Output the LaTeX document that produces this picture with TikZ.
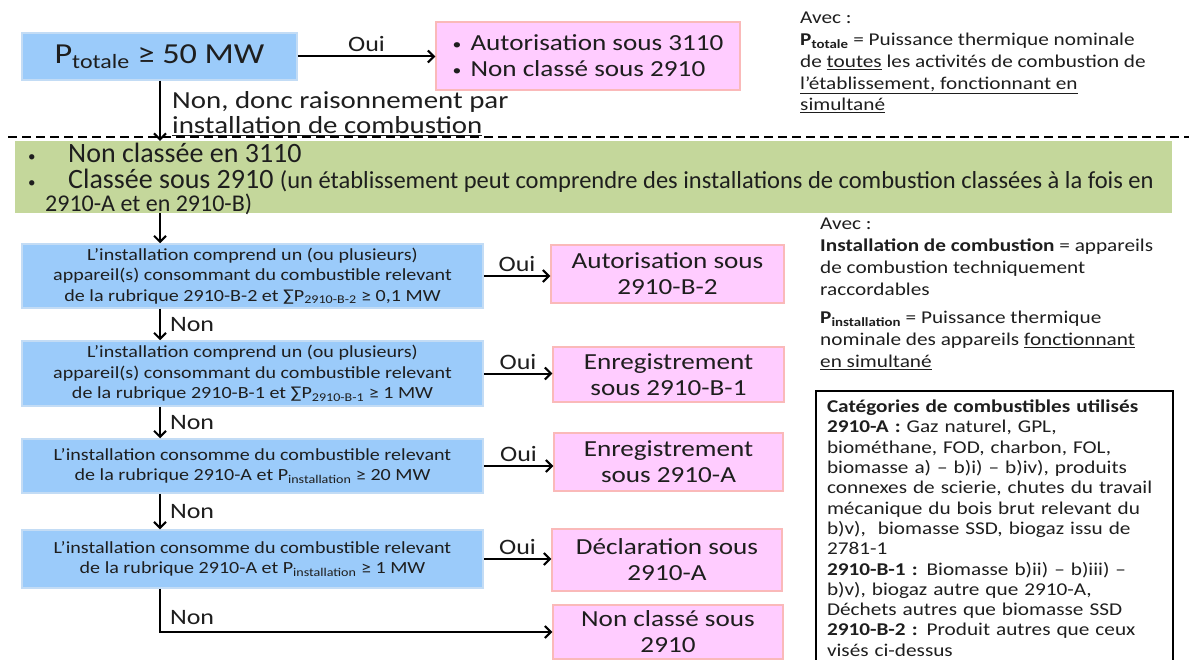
\documentclass[tikz,border=0pt]{standalone}
\usepackage{fontspec}
\setmainfont{Carlito}[FakeStretch=1.18]
\newfontfamily\greenfont{Carlito}
\usetikzlibrary{arrows.meta}
\definecolor{bluefill}{RGB}{155,203,250}
\definecolor{blueline}{RGB}{195,220,245}
\definecolor{pinkfill}{RGB}{255,204,255}
\definecolor{pinkline}{RGB}{250,185,185}
\definecolor{greenfill}{RGB}{196,215,155}
\definecolor{txt}{RGB}{30,30,30}
\newcommand\fsz[2]{\fontsize{#1}{#2}\selectfont}
\newcommand\smbul{\raisebox{1.5pt}{\fsz{15}{15}•}}
\begin{document}
\begin{tikzpicture}[x=1pt,y=-1pt,
  every node/.style={text=txt, inner sep=0pt},
  bluebox/.style={draw=blueline, fill=bluefill, line width=1.5pt, align=center},
  pinkbox/.style={draw=pinkline, fill=pinkfill, line width=1.5pt, align=center, font=\fsz{23}{26}},
  smalltxt/.style={font=\fsz{17}{20.5}},
  arr/.style={line width=2pt, -{Straight Barb[length=6pt,width=12pt]}},
  lbl/.style={font=\fsz{22}{25}},
  note/.style={font=\fsz{18}{21.8}, align=left, anchor=north west},
]
\useasboundingbox (0,0) rectangle (1189,660);
\fill[white] (0,0) rectangle (1189,660);
\coordinate (vx) at (160,0);

% top decision
\node[bluebox, minimum width=275, minimum height=47, font=\fsz{29}{30}] (b1) at (159.5,56.5)
  {P\textsubscript{totale} ≥ 50 MW};
\node[pinkbox, minimum width=304, minimum height=68, align=left] (p1) at (588,56)
  {\makebox[18pt][l]{\smbul}Autorisation sous 3110\\ \makebox[18pt][l]{\smbul}Non classé sous 2910};
\draw[arr] (b1.east) -- (b1.east -| p1.west) node[midway, above=4pt, lbl] {Oui};

% green box
\node[fill=greenfill, minimum width=1157, minimum height=72] (g) at (593.5,177) {};
\node[anchor=north west, align=left, font=\greenfont\fsz{28}{26}] (gt) at (28,143)
  {\makebox[40pt][l]{\smbul}Non classée en 3110\\
   \makebox[40pt][l]{\smbul}Classée sous 2910 {\fsz{24.5}{24}(un établissement peut comprendre des installations de combustion classées à la fois en}\\[-3pt]
   \hspace{17pt}{\fsz{24}{24}2910-A et en 2910-B)}};

\draw[line width=2pt, dash pattern=on 9pt off 5pt] (8,137) -- (1189,137);
\draw[arr] (b1.south -| vx) -- (g.north -| vx);
\node[anchor=north west, align=left, font=\fsz{24.5}{25}] (nd) at (172,91)
  {Non, donc raisonnement par\\ \underline{installation de combustion}};

% decision chain
\node[bluebox, smalltxt, minimum width=461, minimum height=64] (b2) at (252.5,276)
  {L’installation comprend un (ou plusieurs)\\ appareil(s) consommant du combustible relevant\\ de la rubrique 2910-B-2 et ∑P\textsubscript{2910-B-2} ≥ 0,1 MW};
\node[bluebox, smalltxt, minimum width=461, minimum height=65] (b3) at (252.5,373.5)
  {L’installation comprend un (ou plusieurs)\\ appareil(s) consommant du combustible relevant\\ de la rubrique 2910-B-1 et ∑P\textsubscript{2910-B-1} ≥ 1 MW};
\node[bluebox, smalltxt, minimum width=461, minimum height=54] (b4) at (252.5,466)
  {L’installation consomme du combustible relevant\\ de la rubrique 2910-A et P\textsubscript{installation} ≥ 20 MW};
\node[bluebox, smalltxt, minimum width=461, minimum height=58] (b5) at (252.5,559)
  {L’installation consomme du combustible relevant\\ de la rubrique 2910-A et P\textsubscript{installation} ≥ 1 MW};

\node[pinkbox, minimum width=233, minimum height=58] (p2) at (667.5,274) {Autorisation sous\\ 2910-B-2};
\node[pinkbox, minimum width=231, minimum height=55] (p3) at (668.5,374.5) {Enregistrement\\ sous 2910-B-1};
\node[pinkbox, minimum width=229, minimum height=58] (p4) at (668.5,462) {Enregistrement\\ sous 2910-A};
\node[pinkbox, minimum width=230, minimum height=62] (p5) at (667,560) {Déclaration sous\\ 2910-A};
\node[pinkbox, minimum width=230, minimum height=54] (p6) at (668,632) {Non classé sous\\ 2910};

\draw[arr] (g.south -| vx) -- (b2.north -| vx);
\draw[arr] (b2.south -| vx) -- (b3.north -| vx) node[midway, right=9pt, lbl] {Non};
\draw[arr] (b3.south -| vx) -- (b4.north -| vx) node[midway, right=9pt, lbl] {Non};
\draw[arr] (b4.south -| vx) -- (b5.north -| vx) node[midway, right=9pt, lbl] {Non};
\draw[arr] (b5.south -| vx) |- (p6.west) node[pos=0.33, right=9pt, lbl] {Non};

\draw[arr] (b2.east) -- (b2.east -| p2.west) node[midway, above=3pt, lbl] {Oui};
\draw[arr] (b3.east) -- (b3.east -| p3.west) node[midway, above=3pt, lbl] {Oui};
\draw[arr] (b4.east) -- (b4.east -| p4.west) node[midway, above=3pt, lbl] {Oui};
\draw[arr] (b5.east) -- (b5.east -| p5.west) node[midway, above=3pt, lbl] {Oui};

% notes
\node[note] (n1) at (800,12)
  {Avec :\\ \textbf{P\textsubscript{totale}} = Puissance thermique nominale\\
   de \underline{toutes} les activités de combustion de\\
   \underline{l’établissement, fonctionnant en}\\ \underline{simultané}};
\node[note] (n2) at (820,218)
  {Avec :\\ \textbf{Installation de combustion} = appareils\\ de combustion techniquement\\ raccordables\\[7pt]
   \textbf{P\textsubscript{installation}} = Puissance thermique\\ nominale des appareils \underline{fonctionnant}\\ \underline{en simultané}};
\node[draw=black, line width=2pt, anchor=north west, align=left, text width=335, inner xsep=11pt, inner ysep=9pt,
      font=\fsz{18}{20.3}] (cat) at (815,390)
  {\textbf{Catégories de combustibles utilisés}\\
   \textbf{2910-A :} Gaz naturel, GPL,\\
   biométhane, FOD, charbon, FOL,\\
   biomasse a) – b)i) – b)iv), produits\\
   connexes de scierie, chutes du travail\\
   mécanique du bois brut relevant du\\
   b)v),~ biomasse SSD, biogaz issu de\\
   2781-1\\
   \textbf{2910-B-1 :} Biomasse b)ii) – b)iii) –\\
   b)v), biogaz autre que 2910-A,\\
   Déchets autres que biomasse SSD\\
   \textbf{2910-B-2 :} Produit autres que ceux\\
   visés ci-dessus};
\end{tikzpicture}
\end{document}
